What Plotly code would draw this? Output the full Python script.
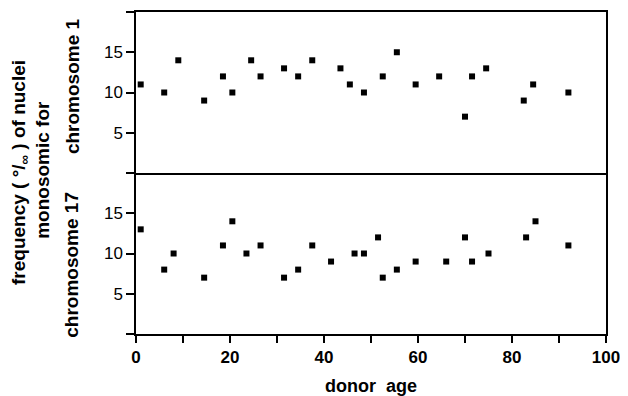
import plotly.graph_objects as go
from plotly.subplots import make_subplots

# chromosome 1 (top panel)
age_chr1 = [1, 6, 9, 14.5, 18.5, 20.5, 24.5, 26.5, 31.5, 34.5, 37.5, 43.5, 45.5, 48.5,
            52.5, 55.5, 59.5, 64.5, 70, 71.5, 74.5, 82.5, 84.5, 92]
freq_chr1 = [11, 10, 14, 9, 12, 10, 14, 12, 13, 12, 14, 13, 11, 10,
             12, 15, 11, 12, 7, 12, 13, 9, 11, 10]

# chromosome 17 (bottom panel)
age_chr17 = [1, 6, 8, 14.5, 18.5, 20.5, 23.5, 26.5, 31.5, 34.5, 37.5, 41.5, 46.5, 48.5,
             51.5, 52.5, 55.5, 59.5, 66, 70, 71.5, 75, 83, 85, 92]
freq_chr17 = [13, 8, 10, 7, 11, 14, 10, 11, 7, 8, 11, 9, 10, 10,
              12, 7, 8, 9, 9, 12, 9, 10, 12, 14, 11]

x_tickvals = list(range(0, 101, 10))
x_ticktext = [str(v) if v % 20 == 0 else "" for v in x_tickvals]
y_tickvals = [0, 5, 10, 15, 20]
y_ticktext = ["", "5", "10", "15", ""]

fig = make_subplots(rows=2, cols=1, shared_xaxes=False, vertical_spacing=0)

marker = dict(symbol="square", size=6, color="black")
fig.add_trace(go.Scatter(x=age_chr1, y=freq_chr1, mode="markers", marker=marker,
                         showlegend=False), row=1, col=1)
fig.add_trace(go.Scatter(x=age_chr17, y=freq_chr17, mode="markers", marker=marker,
                         showlegend=False), row=2, col=1)

base = dict(showline=True, linecolor="black", linewidth=1.5,
            showgrid=False, zeroline=False, automargin=False)

fig.update_xaxes(range=[0, 100], tickvals=x_tickvals, ticktext=x_ticktext,
                 ticklabeloverflow="allow", **base)
fig.update_xaxes(showticklabels=False, ticks="", mirror=True, row=1, col=1)
fig.update_xaxes(mirror=False, ticks="outside", ticklen=7, tickwidth=1.5, tickcolor="black",
                 tickfont=dict(family="Liberation Sans", size=17, color="black", weight="bold"),
                 title=dict(text="donor  age",
                            font=dict(family="Liberation Sans", size=18, color="black", weight="bold"),
                            standoff=14),
                 row=2, col=1)

fig.update_yaxes(range=[0, 20], tickvals=y_tickvals, ticktext=y_ticktext, mirror=True,
                 ticks="outside", ticklen=8, tickwidth=1.5, tickcolor="black",
                 tickfont=dict(family="Liberation Sans", size=17, color="black"),
                 ticklabeloverflow="allow", **base)

label_font = dict(family="Liberation Sans", size=19, color="black", weight="bold")
annos = [
    ("frequency ( °/<sub>∞</sub> ) of nuclei", -116, 0.50),
    ("monosomic for", -93, 0.51),
    ("chromosome 1", -64, 0.77),
    ("chromosome 17", -64, 0.215),
]
for text, xs, y in annos:
    fig.add_annotation(text=text, xref="paper", yref="paper", x=0, y=y, xshift=xs,
                       xanchor="center", yanchor="middle", textangle=-90,
                       showarrow=False, font=label_font)

# page body has an 8px margin, so the figure is drawn 8px in from the window edge
fig.update_layout(width=620, height=388, margin=dict(l=128, r=22, t=4, b=62),
                  plot_bgcolor="white", paper_bgcolor="white")

fig.write_html("out.html")
